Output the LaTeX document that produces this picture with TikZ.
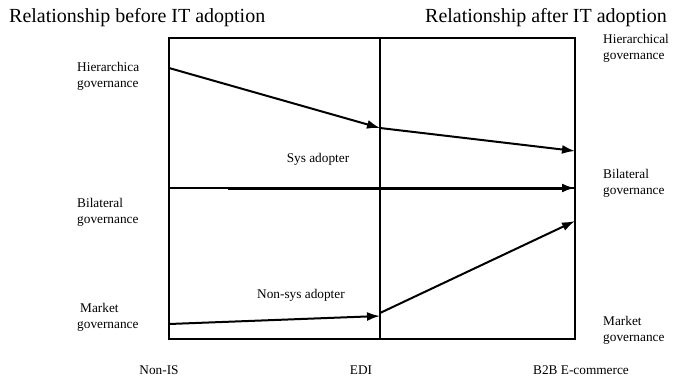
\documentclass[tikz,border=0pt]{standalone}
\usepackage{fontspec}
\setmainfont{Liberation Serif}
\usetikzlibrary{arrows.meta}
\tikzset{
  lbl/.style={inner sep=0pt, align=left, font=\fontsize{13.3}{16}\selectfont},
  ttl/.style={inner sep=0pt, font=\fontsize{20}{24}\selectfont},
  frame/.style={line width=1.1pt},
  arr/.style={line width=2pt, -{Latex[length=13pt,width=9pt]}},
  thickarr/.style={line width=3pt, -{Latex[length=13pt,width=9pt]}},
}
\begin{document}
\begin{tikzpicture}[x=1pt,y=-1pt]
\useasboundingbox (0,0) rectangle (677,381);
% frame
\coordinate (tl) at (169,38);
\coordinate (br) at (575,339);
\coordinate (et) at (380,38);
\coordinate (eb) at (380,339);
\coordinate (ml) at (169,188);
\coordinate (mr) at (575,188);
\draw[frame] (tl) rectangle (br);
\draw[frame] (et) -- (eb);
\draw[frame] (ml) -- (mr);
% points
\coordinate (h0) at (169,68);
\coordinate (h1) at (380,128);
\coordinate (h2) at (575,151);
\coordinate (s0) at (228,188);
\coordinate (s1) at (575,188);
\coordinate (n0) at (169,324);
\coordinate (n1) at (380,316);
\coordinate (n1b) at (380,313);
\coordinate (n2) at (575,221);
\draw[arr] (h0) -- (h1);
\draw[arr] (h1) -- (h2);
\draw[thickarr] (s0) -- (s1);
\draw[arr] (n0) -- (n1);
\draw[arr] (n1b) -- (n2);
% titles
\node[ttl, anchor=west] (t1) at (9,18) {Relationship before IT adoption};
\node[ttl, anchor=west] (t2) at (425,18) {Relationship after IT adoption};
% left labels
\node[lbl, anchor=west] (lh) at (77,76) {Hierarchica\\governance};
\node[lbl, anchor=west] (lb) at (77,212) {Bilateral\\governance};
\node[lbl, anchor=west] (lm) at (77,317) {\hspace{3pt}Market\\governance};
% right labels
\node[lbl, anchor=west] (rh) at (603,48) {Hierarchical\\governance};
\node[lbl, anchor=west] (rb) at (603,183) {Bilateral\\governance};
\node[lbl, anchor=west] (rm) at (603,330) {Market\\governance};
% inner labels
\node[lbl] (sys) at (318,159) {Sys adopter};
\node[lbl] (nsys) at (301,295) {Non-sys adopter};
% axis labels
\node[lbl] (x1) at (159,370) {Non-IS};
\node[lbl] (x2) at (361,370) {EDI};
\node[lbl] (x3) at (581,370) {B2B E-commerce};
\end{tikzpicture}
\end{document}
